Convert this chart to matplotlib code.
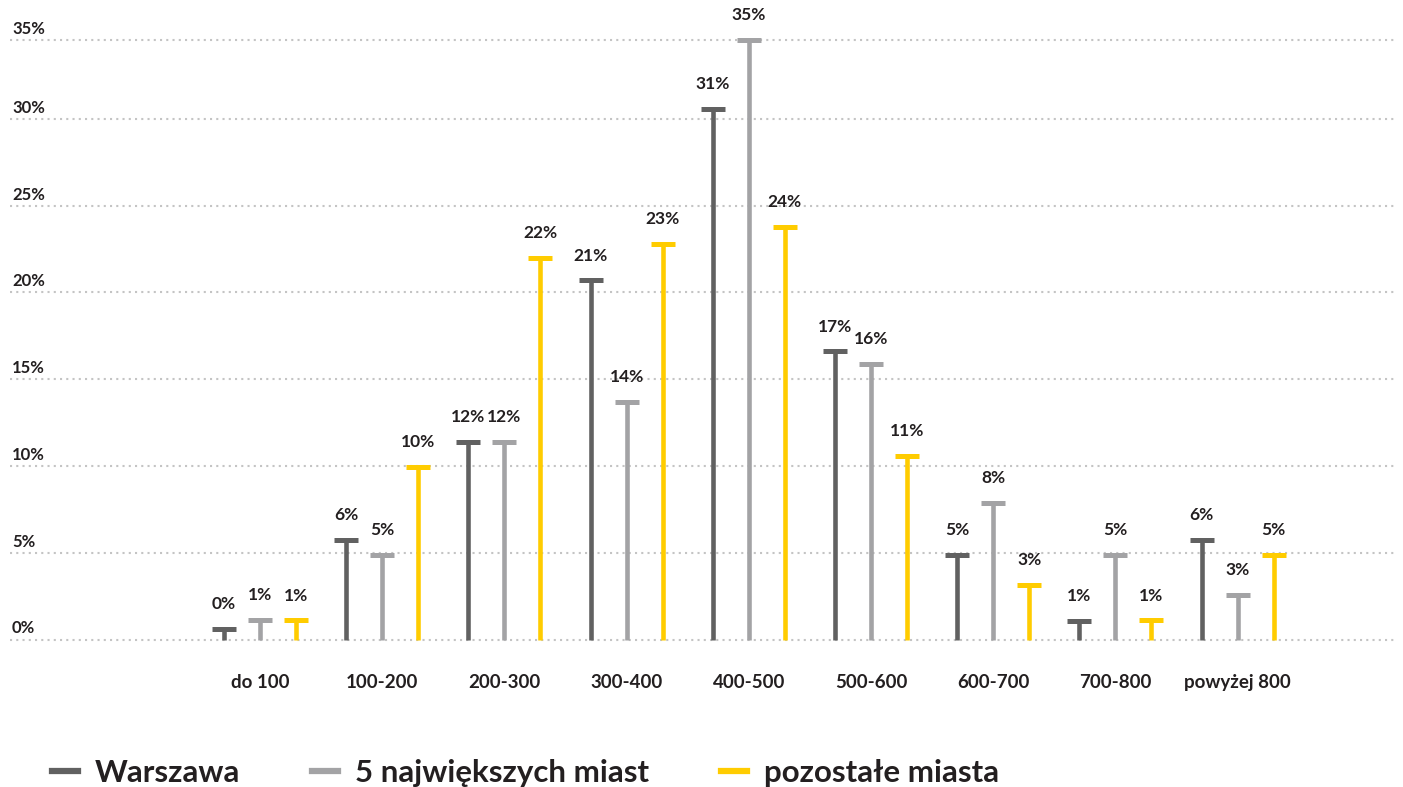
import matplotlib
matplotlib.use("Agg")
import matplotlib.pyplot as plt
from matplotlib.lines import Line2D
import numpy as np

categories = ["do 100", "100-200", "200-300", "300-400", "400-500",
              "500-600", "600-700", "700-800", "powyżej 800"]
series_names = ["Warszawa", "5 największych miast", "pozostałe miasta"]
warszawa = [0.6, 5.73, 11.4, 20.7, 30.6, 16.6, 4.87, 1.07, 5.73]
duze_miasta = [1.12, 4.87, 11.4, 13.7, 34.55, 15.9, 7.87, 4.87, 2.56]
pozostale = [1.1, 9.96, 21.98, 22.8, 23.8, 10.6, 3.14, 1.1, 4.87]
labels_w = ["0%", "6%", "12%", "21%", "31%", "17%", "5%", "1%", "6%"]
labels_d = ["1%", "5%", "12%", "14%", "35%", "16%", "8%", "5%", "3%"]
labels_p = ["1%", "10%", "22%", "23%", "24%", "11%", "3%", "1%", "5%"]
yticks = [0, 5, 10, 15, 20, 25, 30]

colors = ["#616161", "#a3a3a5", "#ffcc00"]
text_color = "#231f20"
FONT = ["Lato", "DejaVu Sans"]
plt.rcParams['font.family'] = FONT

W, H = 1403, 787
ymax = max(duze_miasta + warszawa + pozostale)
fig = plt.figure(figsize=(W / 100, H / 100), dpi=100)
ax = fig.add_axes([10 / W, (H - 639.5) / H, (1395 - 10) / W, (639.5 - 40) / H])
ax.set_ylim(0, ymax)
ax.set_xlim(-2.046, 9.288)
ax.axis("off")

# gridlines (the top one sits at the axis maximum)
grid_vals = yticks + [ymax]
grid_labs = [f"{v:.0f}%" for v in yticks] + [f"{round(ymax):.0f}%"]
for t, lab in zip(grid_vals, grid_labs):
    ax.axhline(t, color="#c4c4c4", lw=1.5, ls=(0, (1, 2)), zorder=0,
               clip_on=False)
    ax.annotate(lab, xy=(0, t), xycoords=("axes fraction", "data"),
                xytext=(1.5, 2.3), textcoords="offset points",
                ha="left", va="bottom", fontsize=12, fontweight="bold",
                color=text_color, zorder=1,
                bbox=dict(boxstyle="square,pad=0.05", fc="white", ec="none"))

x = np.arange(len(categories))
offsets = [-0.295, 0.0, 0.295]
all_vals = [warszawa, duze_miasta, pozostale]
all_labels = [labels_w, labels_d, labels_p]
for vals, labs, off, col in zip(all_vals, all_labels, offsets, colors):
    xs = x + off
    ax.vlines(xs, 0, vals, color=col, lw=3.3, zorder=3, clip_on=False)
    ax.plot(xs, vals, ls="none", marker="_", markersize=17.5,
            markeredgewidth=3.6, color=col, zorder=4, clip_on=False)
    for xi, v, lab in zip(xs, vals, labs):
        ax.annotate(lab, xy=(xi, v), xytext=(0, 12), textcoords="offset points",
                    ha="center", va="bottom", fontsize=12.5, fontweight="bold",
                    color=text_color, zorder=5, annotation_clip=False)

for xi, cat in zip(x, categories):
    ax.annotate(cat, xy=(xi, 0), xytext=(0, -31), textcoords="offset points",
                ha="center", va="center", fontsize=13.5, fontweight="bold",
                color=text_color, annotation_clip=False)

handles = [Line2D([0], [0], color=c, lw=4.5) for c in colors]
leg = fig.legend(handles, series_names, loc="center left",
                 bbox_to_anchor=(52 / W, (H - 773) / H), ncol=3,
                 frameon=False, handlelength=0.82, borderpad=0,
                 borderaxespad=0, handletextpad=0.55, columnspacing=2.3,
                 prop={"family": FONT, "weight": "bold", "size": 22.5})
for t in leg.get_texts():
    t.set_color(text_color)

fig.savefig("out.png", dpi=100)
